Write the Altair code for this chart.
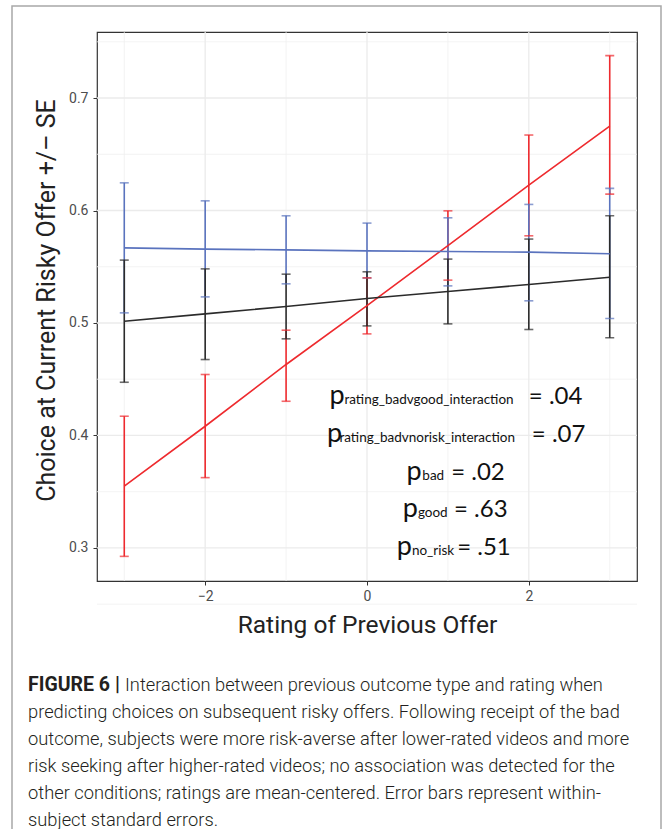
import altair as alt
import pandas as pd

# ---------------- data ----------------
ratings = [-3, -2, -1, 0, 1, 2, 3]
conditions = ["bad", "good", "no_risk"]

bad_lower = [0.2925, 0.3625, 0.4304, 0.4903, 0.5381, 0.5775, 0.6146]
bad_upper = [0.4171, 0.4542, 0.4936, 0.5401, 0.5997, 0.6671, 0.7377]
bad_fit = [0.3550, 0.4082, 0.4631, 0.5155, 0.5688, 0.6226, 0.6751]

good_lower = [0.5090, 0.5232, 0.5348, 0.5400, 0.5330, 0.5197, 0.5040]
good_upper = [0.6246, 0.6086, 0.5953, 0.5888, 0.5935, 0.6054, 0.6197]
good_fit = [0.5668, 0.5657, 0.5650, 0.5641, 0.5636, 0.5630, 0.5615]

norisk_lower = [0.4473, 0.4675, 0.4859, 0.4974, 0.4992, 0.4942, 0.4868]
norisk_upper = [0.5559, 0.5481, 0.5434, 0.5455, 0.5568, 0.5746, 0.5953]
norisk_fit = [0.5016, 0.5081, 0.5147, 0.5218, 0.5280, 0.5342, 0.5407]

x_major = [-2, 0, 2]
x_minor = [-3, -1, 1, 3]
y_major = [0.3, 0.4, 0.5, 0.6, 0.7]
y_minor = [0.25, 0.35, 0.45, 0.55, 0.65, 0.75]

p_subscripts = ["rating_badvgood_interaction", "rating_badvnorisk_interaction",
                "bad", "good", "no_risk"]
p_values = ["= .04", "= .07", "= .02", "= .63", "= .51"]

caption_bold = "FIGURE 6 |"
caption_lines = [
    "Interaction between previous outcome type and rating when",
    "predicting choices on subsequent risky offers. Following receipt of the bad",
    "outcome, subjects were more risk-averse after lower-rated videos and more",
    "risk seeking after higher-rated videos; no association was detected for the",
    "other conditions; ratings are mean-centered. Error bars represent within-",
    "subject standard errors.",
]

# ---------------- tables ----------------
rows = []
for cond, lo, up, fit in [("bad", bad_lower, bad_upper, bad_fit),
                          ("good", good_lower, good_upper, good_fit),
                          ("no_risk", norisk_lower, norisk_upper, norisk_fit)]:
    for r, l, u, f in zip(ratings, lo, up, fit):
        rows.append({"rating": r, "condition": cond, "lower": l, "upper": u, "fit": f})
df = pd.DataFrame(rows)

# annotation anchors (data coordinates)
ann = pd.DataFrame({
    "sub": p_subscripts,
    "val": p_values,
    "p": ["p"] * 5,
    "xp": [-0.464, -0.493, 0.489, 0.443, 0.369],
    "xs": [-0.279, -0.341, 0.684, 0.629, 0.555],
    "xe": [2.000, 2.037, 1.040, 1.075, 1.115],
    "y": [0.4278, 0.3942, 0.3601, 0.3272, 0.2934],
})

RED, BLUE, BLACK = "#EE2A2E", "#5A73BE", "#2B2B2B"
color = alt.Color("condition:N", legend=None,
                  scale=alt.Scale(domain=conditions, range=[RED, BLUE, BLACK]))

xscale = alt.Scale(domain=[-3.337, 3.337], nice=False, zero=False)
yscale = alt.Scale(domain=[0.2706, 0.7587], nice=False, zero=False)

FONT = "Roboto"

xax = alt.Axis(values=x_major, format="d", title="Rating of Previous Offer",
               grid=False, domain=False, tickColor="#333333", tickSize=4,
               labelColor="#4D4D4D", labelFontSize=14, labelFont=FONT,
               labelPadding=4, titleFont=FONT, titleFontSize=24.5,
               titleFontWeight="normal", titleColor="#222222", titlePadding=10)
yax = alt.Axis(values=y_major, format=".1f",
               title="Choice at Current Risky Offer +/– SE",
               grid=False, domain=False, tickColor="#333333", tickSize=4,
               labelColor="#4D4D4D", labelFontSize=14, labelFont=FONT,
               labelPadding=5, titleFont=FONT, titleFontSize=25,
               titleFontWeight="normal", titleColor="#222222", titlePadding=9,
               titleY=268)

gy_major = alt.Chart(pd.DataFrame({"v": y_major})).mark_rule(
    color="#EBEBEB", strokeWidth=1.3).encode(y=alt.Y("v:Q", scale=yscale, axis=yax))
gy_minor = alt.Chart(pd.DataFrame({"v": y_minor})).mark_rule(
    color="#F0F0F0", strokeWidth=0.8).encode(y=alt.Y("v:Q", scale=yscale))
gx_major = alt.Chart(pd.DataFrame({"v": x_major})).mark_rule(
    color="#EBEBEB", strokeWidth=1.3).encode(x=alt.X("v:Q", scale=xscale, axis=xax))
gx_minor = alt.Chart(pd.DataFrame({"v": x_minor})).mark_rule(
    color="#F0F0F0", strokeWidth=0.8).encode(x=alt.X("v:Q", scale=xscale))

base = alt.Chart(df).encode(x=alt.X("rating:Q", scale=xscale), color=color)

bars = base.mark_rule(strokeWidth=1.6).encode(
    y=alt.Y("lower:Q", scale=yscale), y2="upper:Q")
cap_lo = base.mark_tick(orient="horizontal", size=9, thickness=1.6).encode(
    y=alt.Y("lower:Q", scale=yscale))
cap_hi = base.mark_tick(orient="horizontal", size=9, thickness=1.6).encode(
    y=alt.Y("upper:Q", scale=yscale))
lines = base.mark_line(strokeWidth=1.6).encode(
    y=alt.Y("fit:Q", scale=yscale), detail="condition:N")

annbase = alt.Chart(ann)
ann_p = annbase.mark_text(align="left", baseline="alphabetic", font="Lato",
                          fontSize=27, color="#111111").encode(
    x=alt.X("xp:Q", scale=xscale), y=alt.Y("y:Q", scale=yscale), text="p:N")
ann_s = annbase.mark_text(align="left", baseline="alphabetic", font="Lato",
                          fontSize=13.5, color="#111111").encode(
    x=alt.X("xs:Q", scale=xscale), y=alt.Y("y:Q", scale=yscale), text="sub:N")
ann_e = annbase.mark_text(align="left", baseline="alphabetic", font="Lato",
                          fontSize=24, color="#111111").encode(
    x=alt.X("xe:Q", scale=xscale), y=alt.Y("y:Q", scale=yscale), text="val:N")

one = pd.DataFrame({"a": [0]})
frame = alt.Chart(one).mark_rect(fill=None, stroke="#A8A8A8", strokeWidth=1.5,
                                 clip=False).encode(
    x=alt.value(-85), x2=alt.value(564), y=alt.value(-26), y2=alt.value(830))

cap_style = dict(align="left", baseline="alphabetic", font=FONT,
                 color="#231F20", clip=False)
cap_b = alt.Chart(one).mark_text(fontWeight="bold", fontSize=19.5, **cap_style).encode(
    x=alt.value(-69), y=alt.value(659), text=alt.value(caption_bold))
cap_1 = alt.Chart(one).mark_text(fontWeight=300, fontSize=18.3, **cap_style).encode(
    x=alt.value(28), y=alt.value(659), text=alt.value(caption_lines[0]))
cap_rest = alt.Chart(one).mark_text(fontWeight=300, fontSize=18.3, lineBreak="\n",
                                    lineHeight=27, **cap_style).encode(
    x=alt.value(-69), y=alt.value(686), text=alt.value("\n".join(caption_lines[1:])))

chart = alt.layer(
    frame, gy_minor, gx_minor, gy_major, gx_major,
    bars, cap_lo, cap_hi, lines, ann_p, ann_s, ann_e, cap_b, cap_1, cap_rest
).properties(
    width=540, height=549,
    autosize=alt.AutoSizeParams(type="none"),
    padding={"left": 97, "top": 32, "right": 26, "bottom": 248},
    background="white",
).configure_view(stroke="#333333", strokeWidth=1.2)

chart.save("out.html", embed_options={"renderer": "svg", "actions": False})
